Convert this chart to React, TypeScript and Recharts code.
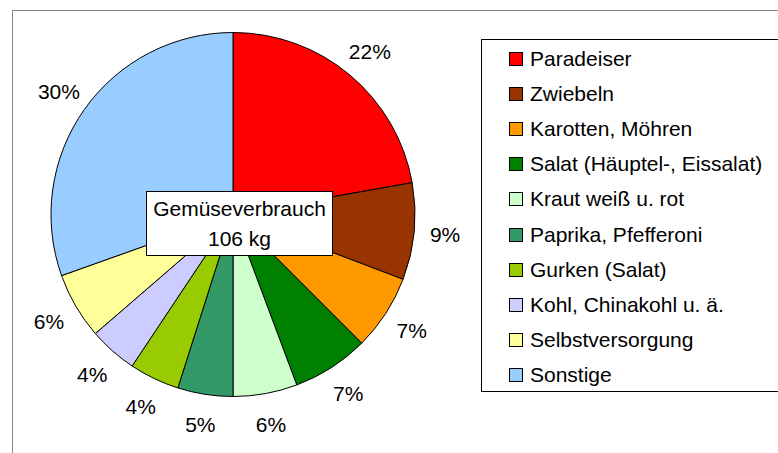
import React from "react";
import { PieChart, Pie, Cell, Legend } from "recharts";

const FONT = "'Liberation Sans', Arial, sans-serif";

const categories = [
  "Paradeiser",
  "Zwiebeln",
  "Karotten, Möhren",
  "Salat (Häuptel-, Eissalat)",
  "Kraut weiß u. rot",
  "Paprika, Pfefferoni",
  "Gurken (Salat)",
  "Kohl, Chinakohl u. ä.",
  "Selbstversorgung",
  "Sonstige",
];
// share in %
const shares = [22.2, 8.6, 6.7, 6.8, 5.7, 4.9, 4.45, 4.3, 5.9, 30.45];
const colors = [
  "#FF0000", "#993300", "#FF9900", "#008000", "#CCFFCC",
  "#339966", "#99CC00", "#CCCCFF", "#FFFF99", "#99CCFF",
];
const centerTitle = "Gemüseverbrauch";
const centerTotal = "106 kg";

const data = categories.map((name, i) => ({ name, value: shares[i] }));

const RAD = Math.PI / 180;

function renderLabel(props: any) {
  const { cx, cy, midAngle, outerRadius, percent } = props;
  const r = outerRadius + 31;
  const x = cx + r * Math.cos(-midAngle * RAD);
  const y = cy + r * Math.sin(-midAngle * RAD);
  return (
    <text x={x} y={y} textAnchor="middle" dominantBaseline="central"
      fontSize={21} fontFamily={FONT} fill="#000">
      {`${(percent * 100).toFixed(0)}%`}
    </text>
  );
}

// legend keeps the data order (Recharts would sort it by name)
function LegendBox() {
  return (
    <div style={{
      border: "1px solid #000", width: 320, height: 353, boxSizing: "border-box",
      paddingTop: 1, background: "#fff", fontFamily: FONT, fontSize: 21, color: "#000",
    }}>
      {categories.map((name, i) => (
        <div key={name} style={{ height: 35.2, display: "flex", alignItems: "center" }}>
          <span style={{
            display: "inline-block", width: 12, height: 12, border: "1px solid #000",
            background: colors[i], marginLeft: 27, marginRight: 7,
          }} />
          <span style={{ whiteSpace: "nowrap" }}>{name}</span>
        </div>
      ))}
    </div>
  );
}

export default function App() {
  return (
    <div style={{ position: "absolute", left: 0, top: 0, width: 778, height: 453, overflow: "hidden", background: "#fff", fontFamily: FONT }}>
      <div style={{ position: "absolute", left: 12, top: 10, width: 800, height: 500, border: "1px solid #888" }} />
      <div style={{ position: "absolute", left: 0, top: 0 }}>
        <PieChart width={778} height={453} margin={{ top: 0, right: 0, bottom: 0, left: 0 }}>
          <Pie data={data} dataKey="value" nameKey="name" cx={233} cy={214.5}
            outerRadius={182} startAngle={90} endAngle={-270}
            stroke="#000" strokeWidth={1} label={renderLabel} labelLine={false}
            isAnimationActive={false}>
            {data.map((d, i) => <Cell key={d.name} fill={colors[i]} />)}
          </Pie>
          <Legend layout="vertical" align="right" verticalAlign="top" content={<LegendBox />}
            wrapperStyle={{ left: 481, top: 39, width: 320, height: 353 }} />
        </PieChart>
      </div>
      <div style={{
        position: "absolute", left: 146, top: 191, width: 187, height: 65, boxSizing: "border-box",
        border: "1.5px solid #000", background: "#fff", display: "flex", flexDirection: "column",
        alignItems: "center", justifyContent: "center", fontSize: 21, lineHeight: "30px", color: "#000",
      }}>
        <div>{centerTitle}</div>
        <div>{centerTotal}</div>
      </div>
    </div>
  );
}
